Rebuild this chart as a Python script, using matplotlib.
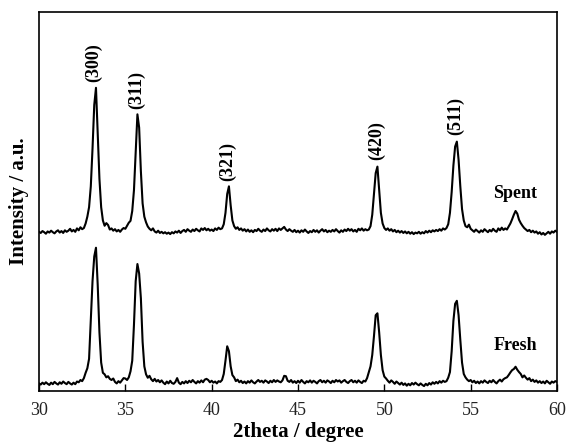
import numpy as np
import matplotlib
matplotlib.use('Agg')
import matplotlib.pyplot as plt

plt.rcParams['font.family'] = ['Liberation Serif', 'DejaVu Serif']

# scan 30-60 deg, 0.1 deg step
two_theta = np.round(np.arange(30.0, 60.05, 0.1), 1)

spent = [
    42.0, 41.7, 42.2, 41.9, 41.5, 42.1, 41.8, 42.3, 41.9, 41.6,
    42.1, 42.4, 41.8, 42.2, 41.7, 42.4, 42.0, 42.3, 42.8, 42.1,
    42.5, 42.0, 42.9, 42.4, 43.2, 42.7, 43.0, 44.2, 46.0, 48.5,
    54.0, 64.0, 75.5, 80.0, 68.0, 56.0, 48.5, 45.0, 43.6, 44.3,
    43.8, 42.6, 42.9, 42.3, 42.7, 42.1, 42.5, 42.0, 42.6, 43.0,
    42.8, 43.6, 44.4, 44.9, 47.5, 53.0, 63.0, 73.0, 69.5, 58.0,
    49.5, 46.0, 44.5, 43.4, 42.8, 42.4, 42.9, 42.1, 41.8, 42.3,
    41.7, 42.0, 41.6, 41.9, 41.5, 41.8, 41.4, 41.9, 41.6, 42.1,
    41.8, 42.3, 41.7, 42.2, 42.5, 42.0, 42.7, 42.3, 42.0, 42.6,
    42.2, 42.8, 42.4, 42.1, 42.9, 42.5, 43.0, 42.4, 42.8, 42.3,
    42.6, 42.2, 42.9, 42.5, 43.1, 42.7, 42.9, 44.0, 47.0, 52.0,
    54.0, 49.0, 45.0, 43.5, 42.8, 43.2, 42.5, 42.9, 42.3, 42.7,
    42.1, 42.6, 42.0, 42.4, 41.9, 42.5, 42.2, 42.8, 42.3, 42.0,
    42.6, 42.2, 42.9, 42.4, 42.1, 42.7, 42.3, 42.8, 42.2, 42.9,
    42.5, 42.9, 43.3, 42.6, 42.2, 42.7, 42.3, 42.0, 42.5, 41.9,
    42.3, 41.8, 42.4, 42.0, 42.6, 42.1, 41.7, 42.2, 41.9, 42.5,
    42.0, 42.4, 41.8, 42.3, 42.7, 42.1, 42.5, 41.9, 42.3, 42.0,
    42.5, 42.1, 42.7, 42.2, 41.8, 42.4, 42.0, 42.6, 42.2, 42.8,
    42.3, 42.7, 42.1, 42.5, 42.0, 42.8, 42.4, 42.9, 42.3, 42.7,
    42.4, 42.6, 43.5, 46.5, 52.0, 57.5, 59.2, 53.0, 47.0, 44.2,
    43.0, 42.5, 42.9, 42.3, 42.7, 42.1, 42.5, 41.9, 42.3, 41.8,
    42.2, 41.7, 42.1, 41.6, 42.0, 41.5, 41.9, 41.4, 41.8, 41.6,
    42.0, 41.5, 41.9, 41.6, 42.2, 41.8, 42.3, 41.9, 42.4, 42.1,
    42.5, 42.2, 42.7, 42.3, 42.9, 42.6, 43.0, 44.0, 47.0, 52.5,
    59.5, 64.5, 65.8, 61.0, 54.0, 48.0, 45.0, 43.5, 43.2, 43.9,
    42.8, 42.4, 42.0, 42.6, 42.2, 41.8, 42.4, 42.0, 42.7, 42.3,
    41.9, 42.5, 42.1, 42.8, 42.3, 42.0, 42.9, 42.4, 43.1, 42.5,
    42.9, 42.6, 43.4, 44.2, 45.3, 46.5, 47.5, 46.8, 45.2, 44.3,
    43.6, 43.0, 42.6, 42.2, 42.5, 41.9, 42.3, 41.8, 42.1, 41.5,
    41.9, 41.3, 41.7, 41.2, 41.6, 42.0, 41.5, 42.1, 41.8, 42.3,
    42.0,
]

fresh = [
    2.0, 1.7, 2.2, 1.8, 2.3, 1.9, 1.6, 2.2, 1.8, 2.4,
    2.0, 1.7, 2.3, 1.9, 2.5, 2.1, 1.8, 2.4, 2.0, 1.7,
    2.2, 1.8, 2.5, 2.3, 2.9, 2.6, 3.4, 4.8, 6.0, 8.5,
    18.5, 29.0, 35.5, 37.8, 28.0, 15.5, 7.5, 4.8, 4.4, 3.6,
    3.9, 3.2, 2.9, 3.3, 2.4, 2.0, 2.6, 2.2, 2.8, 3.4,
    3.3, 2.9, 3.6, 5.2, 8.0, 17.5, 29.0, 33.5, 31.0, 24.5,
    13.0, 6.5, 4.4, 3.5, 4.0, 3.1, 2.6, 3.2, 2.5, 2.9,
    2.3, 2.8, 2.2, 1.8, 2.5, 2.0, 2.7, 2.1, 1.9, 2.4,
    3.4, 2.2, 1.8, 2.4, 2.0, 2.6, 2.1, 2.7, 2.3, 2.9,
    2.4, 2.0, 2.6, 2.2, 2.8, 2.3, 3.0, 3.2, 2.9, 2.3,
    2.7, 2.2, 2.5, 2.0, 2.6, 2.4, 2.9, 4.5, 8.0, 11.8,
    10.5, 6.5, 4.2, 3.6, 2.6, 3.0, 2.3, 2.7, 2.1, 2.5,
    2.0, 2.6, 2.2, 2.8, 2.3, 2.0, 2.5, 2.9, 2.4, 2.7,
    2.2, 2.8, 2.5, 2.1, 2.7, 2.3, 2.9, 2.4, 2.8, 2.5,
    2.3, 2.8, 4.0, 3.9, 2.7, 2.4, 2.9, 2.2, 2.6, 2.1,
    2.7, 2.2, 2.9, 2.4, 2.0, 2.6, 2.3, 2.8, 2.2, 2.7,
    2.4, 2.0, 2.6, 2.9, 2.3, 2.7, 2.2, 2.8, 2.5, 2.1,
    2.7, 2.3, 2.9, 2.5, 2.8, 2.2, 2.6, 2.9, 2.4, 2.1,
    2.6, 2.9, 2.3, 2.7, 2.2, 2.8, 2.4, 2.1, 2.7, 2.5,
    3.4, 5.0, 6.5, 9.5, 14.5, 20.0, 20.5, 15.5, 9.5, 5.5,
    3.8, 3.3, 2.7, 2.2, 2.8, 2.4, 1.9, 2.5, 2.1, 1.7,
    2.2, 1.6, 2.0, 1.4, 1.9, 1.5, 2.1, 1.7, 2.2, 1.8,
    1.5, 2.0, 1.6, 1.3, 1.9, 1.5, 2.1, 1.7, 2.3, 1.9,
    2.4, 2.0, 2.6, 2.2, 2.7, 2.4, 2.6, 3.5, 5.0, 10.5,
    18.5, 23.0, 23.8, 20.0, 13.5, 7.5, 4.5, 3.6, 3.0, 2.6,
    2.9, 2.3, 2.7, 2.1, 2.5, 2.0, 2.6, 2.2, 2.8, 2.4,
    2.1, 2.7, 2.3, 2.9, 2.4, 2.0, 2.6, 3.0, 2.5, 3.1,
    3.4, 3.6, 4.2, 4.9, 5.5, 5.8, 6.4, 5.6, 5.0, 4.5,
    3.6, 4.1, 3.5, 3.0, 3.4, 2.6, 3.0, 2.4, 2.8, 2.2,
    2.6, 2.1, 2.5, 2.0, 2.7, 2.3, 1.9, 2.5, 2.2, 2.6,
    2.4,
]

# peak indices (hkl) and where their labels sit
hkl_labels = ['(300)', '(311)', '(321)', '(420)', '(511)']
hkl_x = [33.15, 35.67, 40.95, 49.58, 54.1]
hkl_y = [81.6, 74.4, 55.3, 60.9, 67.5]

fig = plt.figure(figsize=(5.67, 4.45), dpi=100)
ax = fig.add_axes([39/567, 1 - 391/445, 518/567, 379/445])

ax.plot(two_theta, spent, color='black', lw=1.5)
ax.plot(two_theta, fresh, color='black', lw=1.5)

for lab, xx, yy in zip(hkl_labels, hkl_x, hkl_y):
    ax.text(xx, yy, lab, rotation=90, ha='center', va='bottom',
            fontsize=13, fontweight='bold')

ax.text(57.6, 52.2, 'Spent', ha='center', va='center', fontsize=13, fontweight='bold')
ax.text(57.6, 11.9, 'Fresh', ha='center', va='center', fontsize=13, fontweight='bold')

ax.set_xlim(30, 60)
ax.set_ylim(0, 100)
ax.set_xticks([30, 35, 40, 45, 50, 55, 60])
ax.set_yticks([])
ax.tick_params(axis='x', direction='in', length=5, width=1, labelsize=13, pad=8,
               labelcolor='#222222')
for sp in ax.spines.values():
    sp.set_linewidth(1.2)

ax.set_xlabel('2theta / degree', fontsize=15, fontweight='bold', labelpad=2)
ax.set_ylabel('Intensity / a.u.', fontsize=15, fontweight='bold', labelpad=7)

fig.savefig('out.png', dpi=100)
